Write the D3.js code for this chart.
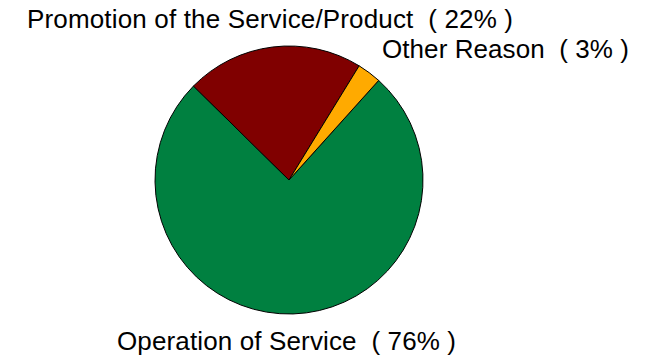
<!DOCTYPE html>
<html>
<head>
<meta charset="utf-8">
<script src="https://cdn.jsdelivr.net/npm/d3@7"></script>
<style>
  html, body { margin: 0; padding: 0; background: #fff; }
  text { font-family: "Liberation Sans", Arial, sans-serif; white-space: pre; }
</style>
</head>
<body>
<div id="chart"></div>
<script>
const categories = ["Operation of Service", "Promotion of the Service/Product", "Other Reason"];
const values = [75.7, 21.4, 2.9];
const pctLabels = ["76%", "22%", "3%"];
const colors = ["#008040", "#800000", "#ffaa00"];

const width = 651, height = 360;
const cx = 289, cy = 180, radius = 134;

// label placement: start x, baseline y, rendered width
const labelPos = [[117, 350, 339], [27, 28, 486], [382, 58, 247]];

const svg = d3.select("#chart")
  .append("svg")
  .attr("width", width)
  .attr("height", height);

const data = categories.map((c, i) => ({name: c, value: values[i], pct: pctLabels[i], color: colors[i]}));

// green slice starts at ~42 degrees clockwise from 12 o'clock
const start = 42 * Math.PI / 180;
const pie = d3.pie()
  .sort(null)
  .value(d => d.value)
  .startAngle(start)
  .endAngle(start + 2 * Math.PI);

const arc = d3.arc()
  .innerRadius(0)
  .outerRadius(radius);

const g = svg.append("g")
  .attr("transform", "translate(" + cx + "," + cy + ")");

g.selectAll("path")
  .data(pie(data))
  .enter().append("path")
  .attr("d", arc)
  .attr("fill", d => d.data.color)
  .attr("stroke", "#000")
  .attr("stroke-width", 1);

svg.selectAll(".label")
  .data(data)
  .enter().append("text")
  .attr("class", "label")
  .attr("x", (d, i) => labelPos[i][0])
  .attr("y", (d, i) => labelPos[i][1])
  .attr("textLength", (d, i) => labelPos[i][2])
  .attr("lengthAdjust", "spacing")
  .attr("font-size", 26)
  .attr("fill", "#000")
  .text(d => d.name + "  ( " + d.pct + " )");
</script>
</body>
</html>
